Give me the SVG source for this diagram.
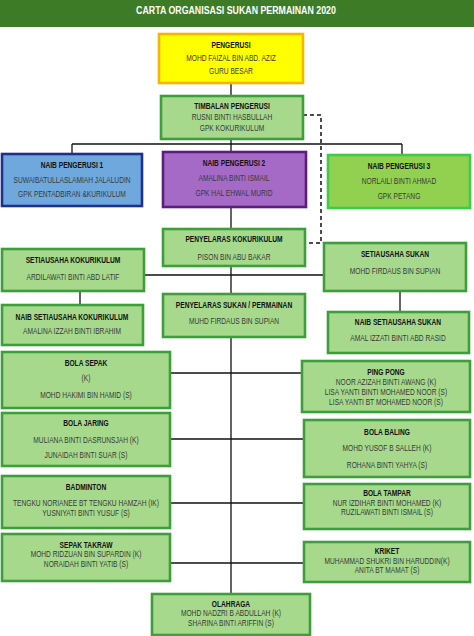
<svg xmlns="http://www.w3.org/2000/svg" width="474" height="636" viewBox="0 0 474 636">
<style>
text{font-family:"Liberation Sans",Arial,sans-serif;font-size:8.3px;text-anchor:middle;fill:#3a3a3a}
text.b{font-weight:bold;fill:#111}
text.t{font-weight:bold;fill:#fff;font-size:10.5px}
.g{fill:#a6d98c;stroke:#3f9e3c;stroke-width:2.6}
.y{fill:#ffff00;stroke:#f7b500;stroke-width:2.6}
.bl{fill:#6fa8dc;stroke:#1f2f8f;stroke-width:2.6}
.pu{fill:#a569c6;stroke:#5a1f7c;stroke-width:2.6}
.lg{fill:#92d050;stroke:#3fcb4a;stroke-width:2.6}
.c line,.c path{stroke:#111;stroke-width:1.3;fill:none}
.c .d{stroke-dasharray:4 3;stroke-width:1.5}
</style>
<rect x="0" y="0" width="474" height="27" fill="#3e7b27"/>
<text class="t" transform="translate(236 0) scale(.84 1)" x="0" y="14.5">CARTA ORGANISASI SUKAN PERMAINAN 2020</text>
<g class="c" id="connectors">
<line x1="231" y1="83" x2="231" y2="96"/>
<line x1="231" y1="139" x2="231" y2="152"/>
<line x1="72" y1="144" x2="402" y2="144"/>
<line x1="72" y1="144" x2="72" y2="154"/>
<line x1="402" y1="144" x2="402" y2="155"/>
<line x1="231" y1="207" x2="231" y2="229"/>
<line x1="231" y1="266" x2="231" y2="294"/>
<line x1="144" y1="275" x2="324" y2="275"/>
<line x1="80" y1="291" x2="80" y2="305"/>
<line x1="400" y1="291" x2="400" y2="312"/>
<line x1="231" y1="337" x2="231" y2="594"/>
<line x1="170" y1="373" x2="302" y2="373"/>
<line x1="170" y1="439" x2="304" y2="439"/>
<line x1="170" y1="503" x2="304" y2="503"/>
<line x1="170" y1="563" x2="304" y2="563"/>
<path class="d" d="M303 115 H321 V243 H305"/>
</g>
<g id="pengerusi"><rect class="y" x="159" y="34" width="144" height="49"/>
<text class="b" transform="translate(231 0) scale(.8 1)" x="0" y="48">PENGERUSI</text>
<text transform="translate(231 0) scale(.8 1)" x="0" y="61">MOHD FAIZAL BIN ABD.  AZIZ</text>
<text transform="translate(231 0) scale(.8 1)" x="0" y="74">GURU BESAR</text></g>
<g id="timbalan"><rect class="g" x="161" y="96" width="142" height="43"/>
<text class="b" transform="translate(232 0) scale(.8 1)" x="0" y="109">TIMBALAN PENGERUSI</text>
<text transform="translate(232 0) scale(.8 1)" x="0" y="120">RUSNI BINTI HASBULLAH</text>
<text transform="translate(232 0) scale(.8 1)" x="0" y="131">GPK KOKURIKULUM</text></g>
<g id="naib1"><rect class="bl" x="2" y="154" width="140" height="52"/>
<text class="b" transform="translate(72 0) scale(.8 1)" x="0" y="168">NAIB PENGERUSI 1</text>
<text transform="translate(72 0) scale(.8 1)" x="0" y="183">SUWAIBATULLASLAMIAH JALALUDIN</text>
<text transform="translate(72 0) scale(.8 1)" x="0" y="197">GPK PENTADBIRAN &amp;KURIKULUM</text></g>
<g id="naib2"><rect class="pu" x="163" y="152" width="143" height="55"/>
<text class="b" transform="translate(234 0) scale(.8 1)" x="0" y="166">NAIB PENGERUSI 2</text>
<text transform="translate(234 0) scale(.8 1)" x="0" y="181">AMALINA BINTI ISMAIL</text>
<text transform="translate(234 0) scale(.8 1)" x="0" y="196">GPK HAL EHWAL MURID</text></g>
<g id="naib3"><rect class="lg" x="328" y="155" width="142" height="53"/>
<text class="b" transform="translate(399 0) scale(.8 1)" x="0" y="169">NAIB PENGERUSI 3</text>
<text transform="translate(399 0) scale(.8 1)" x="0" y="184">NORLAILI BINTI AHMAD</text>
<text transform="translate(399 0) scale(.8 1)" x="0" y="199">GPK PETANG</text></g>
<g id="penyelaras-kokurikulum"><rect class="g" x="163" y="229" width="142" height="37"/>
<text class="b" transform="translate(234 0) scale(.8 1)" x="0" y="242">PENYELARAS KOKURIKULUM</text>
<text transform="translate(234 0) scale(.8 1)" x="0" y="260">PISON BIN ABU BAKAR</text></g>
<g id="setiausaha-kokurikulum"><rect class="g" x="2" y="249" width="142" height="42"/>
<text class="b" transform="translate(73 0) scale(.8 1)" x="0" y="263">SETIAUSAHA KOKURIKULUM</text>
<text transform="translate(73 0) scale(.8 1)" x="0" y="280">ARDILAWATI BINTI ABD LATIF</text></g>
<g id="setiausaha-sukan"><rect class="g" x="324" y="243" width="142" height="48"/>
<text class="b" transform="translate(395 0) scale(.8 1)" x="0" y="257">SETIAUSAHA SUKAN</text>
<text transform="translate(395 0) scale(.8 1)" x="0" y="274">MOHD FIRDAUS BIN SUPIAN</text></g>
<g id="naib-setiausaha-kokurikulum"><rect class="g" x="2" y="305" width="141" height="40"/>
<text class="b" transform="translate(72 0) scale(.8 1)" x="0" y="320">NAIB SETIAUSAHA KOKURIKULUM</text>
<text transform="translate(72 0) scale(.8 1)" x="0" y="334">AMALINA IZZAH BINTI IBRAHIM</text></g>
<g id="penyelaras-sukan"><rect class="g" x="163" y="294" width="142" height="43"/>
<text class="b" transform="translate(234 0) scale(.8 1)" x="0" y="308">PENYELARAS SUKAN / PERMAINAN</text>
<text transform="translate(234 0) scale(.8 1)" x="0" y="324">MUHD FIRDAUS BIN SUPIAN</text></g>
<g id="naib-setiausaha-sukan"><rect class="g" x="328" y="312" width="141" height="41"/>
<text class="b" transform="translate(398 0) scale(.8 1)" x="0" y="325">NAIB SETIAUSAHA SUKAN</text>
<text transform="translate(398 0) scale(.8 1)" x="0" y="341">AMAL IZZATI BINTI ABD RASID</text></g>
<g id="bola-sepak"><rect class="g" x="2" y="352" width="168" height="56"/>
<text class="b" transform="translate(86 0) scale(.8 1)" x="0" y="366">BOLA SEPAK</text>
<text transform="translate(86 0) scale(.8 1)" x="0" y="381">(K)</text>
<text transform="translate(86 0) scale(.8 1)" x="0" y="398">MOHD HAKIMI  BIN HAMID  (S)</text></g>
<g id="ping-pong"><rect class="g" x="302" y="361" width="168" height="51"/>
<text class="b" transform="translate(386 0) scale(.8 1)" x="0" y="375">PING PONG</text>
<text transform="translate(386 0) scale(.8 1)" x="0" y="385">NOOR AZIZAH BINTI AWANG (K)</text>
<text transform="translate(386 0) scale(.8 1)" x="0" y="395">LISA YANTI  BINTI MOHAMED NOOR  (S)</text>
<text transform="translate(386 0) scale(.8 1)" x="0" y="405">LISA YANTI BT MOHAMED NOOR (S)</text></g>
<g id="bola-jaring"><rect class="g" x="2" y="413" width="168" height="53"/>
<text class="b" transform="translate(86 0) scale(.8 1)" x="0" y="426">BOLA JARING</text>
<text transform="translate(86 0) scale(.8 1)" x="0" y="443">MULIANA BINTI DASRUNSJAH (K)</text>
<text transform="translate(86 0) scale(.8 1)" x="0" y="458">JUNAIDAH BINTI SUAR  (S)</text></g>
<g id="bola-baling"><rect class="g" x="304" y="420" width="166" height="57"/>
<text class="b" transform="translate(387 0) scale(.8 1)" x="0" y="435">BOLA BALING</text>
<text transform="translate(387 0) scale(.8 1)" x="0" y="451">MOHD YUSOF  B SALLEH (K)</text>
<text transform="translate(387 0) scale(.8 1)" x="0" y="468">ROHANA BINTI YAHYA  (S)</text></g>
<g id="badminton"><rect class="g" x="2" y="476" width="168" height="52"/>
<text class="b" transform="translate(86 0) scale(.8 1)" x="0" y="490">BADMINTON</text>
<text transform="translate(86 0) scale(.8 1)" x="0" y="506">TENGKU NORIANEE BT TENGKU HAMZAH (IK)</text>
<text transform="translate(86 0) scale(.8 1)" x="0" y="516">YUSNIYATI BINTI  YUSUF (S)</text></g>
<g id="bola-tampar"><rect class="g" x="304" y="484" width="166" height="45"/>
<text class="b" transform="translate(387 0) scale(.8 1)" x="0" y="496">BOLA TAMPAR</text>
<text transform="translate(387 0) scale(.8 1)" x="0" y="506">NUR IZDIHAR BINTI MOHAMED (K)</text>
<text transform="translate(387 0) scale(.8 1)" x="0" y="515">RUZILAWATI  BINTI ISMAIL (S)</text></g>
<g id="sepak-takraw"><rect class="g" x="2" y="534" width="168" height="47"/>
<text class="b" transform="translate(86 0) scale(.8 1)" x="0" y="548">SEPAK TAKRAW</text>
<text transform="translate(86 0) scale(.8 1)" x="0" y="557">MOHD RIDZUAN BIN SUPARDIN (K)</text>
<text transform="translate(86 0) scale(.8 1)" x="0" y="567">NORAIDAH BINTI  YATIB (S)</text></g>
<g id="kriket"><rect class="g" x="304" y="542" width="166" height="40"/>
<text class="b" transform="translate(387 0) scale(.8 1)" x="0" y="554">KRIKET</text>
<text transform="translate(387 0) scale(.8 1)" x="0" y="564">MUHAMMAD SHUKRI BIN HARUDDIN(K)</text>
<text transform="translate(387 0) scale(.8 1)" x="0" y="573">ANITA BT MAMAT (S)</text></g>
<g id="olahraga"><rect class="g" x="152" y="594" width="158" height="41"/>
<text class="b" transform="translate(231 0) scale(.8 1)" x="0" y="607">OLAHRAGA</text>
<text transform="translate(231 0) scale(.8 1)" x="0" y="616">MOHD NADZRI B ABDULLAH (K)</text>
<text transform="translate(231 0) scale(.8 1)" x="0" y="626">SHARINA  BINTI ARIFFIN  (S)</text></g>
</svg>
